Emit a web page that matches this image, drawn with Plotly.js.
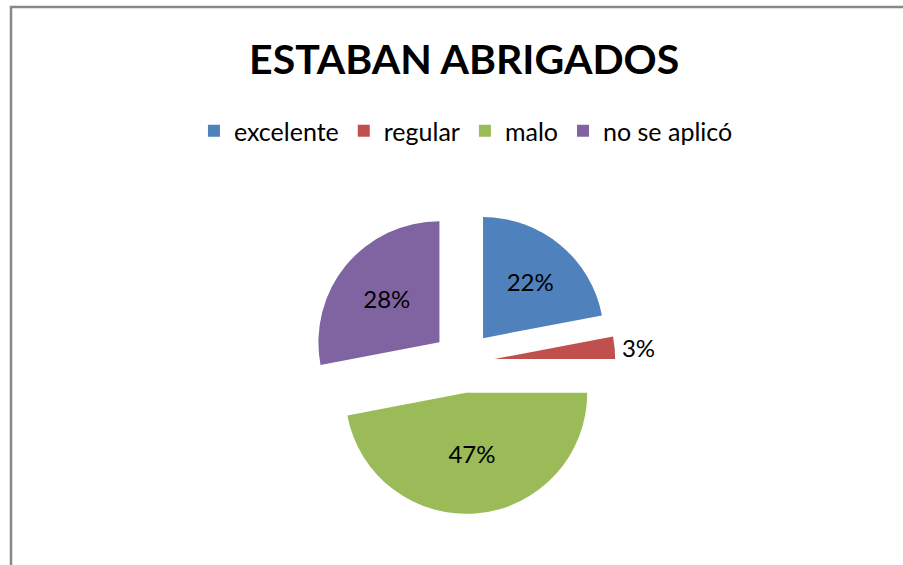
<!DOCTYPE html>
<html>
<head>
<meta charset="utf-8">
<script src="https://cdn.plot.ly/plotly-3.0.1.min.js"></script>
<style>html,body{margin:0;padding:0;background:#fff;}#chart{width:903px;height:565px;}</style>
</head>
<body>
<div id="chart"></div>
<script>
var categories = ['excelente', 'regular', 'malo', 'no se aplicó'];
var values = [22, 3, 47, 28];
var colors = ['#4F81BD', '#C0504D', '#9BBB59', '#8064A2'];
var textPositions = ['inside', 'outside', 'inside', 'inside'];
var chartTitle = 'ESTABAN ABRIGADOS';

var W = 903, H = 565;
var trace = {
  type: 'pie',
  labels: categories,
  values: values,
  sort: false,
  direction: 'clockwise',
  rotation: 0,
  pull: 0.256,
  marker: {colors: colors, line: {width: 0}},
  textinfo: 'percent',
  textposition: textPositions,
  insidetextorientation: 'horizontal',
  textfont: {family: 'Lato, "Open Sans", sans-serif', size: 24, color: '#000'},
  outsidetextfont: {family: 'Lato, "Open Sans", sans-serif', size: 24, color: '#000'},
  domain: {x: [311.3 / W, 615.3 / W], y: [51 / H, 355 / H]},
  automargin: false,
  hoverinfo: 'label+percent'
};
var layout = {
  width: W, height: H,
  margin: {l: 0, r: 0, t: 0, b: 0},
  paper_bgcolor: '#fff',
  title: {
    text: '<b>' + chartTitle + '</b>',
    font: {family: 'Lato, "Open Sans", sans-serif', size: 41, color: '#000'},
    x: 0.514, xanchor: 'center',
    y: 1 - 60 / H, yanchor: 'middle', yref: 'container'
  },
  showlegend: true,
  legend: {
    orientation: 'h',
    x: 0.516, xanchor: 'center',
    y: 1 - 131 / H, yanchor: 'middle',
    font: {family: 'Lato, "Open Sans", sans-serif', size: 25, color: '#000'},
    itemwidth: 30,
    traceorder: 'normal'
  },
  shapes: [{
    type: 'path', xref: 'paper', yref: 'paper',
    path: 'M ' + (11 / W) + ' -0.1 L ' + (11 / W) + ' ' + (1 - 7 / H) + ' L 1.1 ' + (1 - 7 / H),
    line: {color: '#888888', width: 2.5}
  }]
};
Plotly.newPlot('chart', [trace], layout, {displayModeBar: false, staticPlot: true});
</script>
</body>
</html>
